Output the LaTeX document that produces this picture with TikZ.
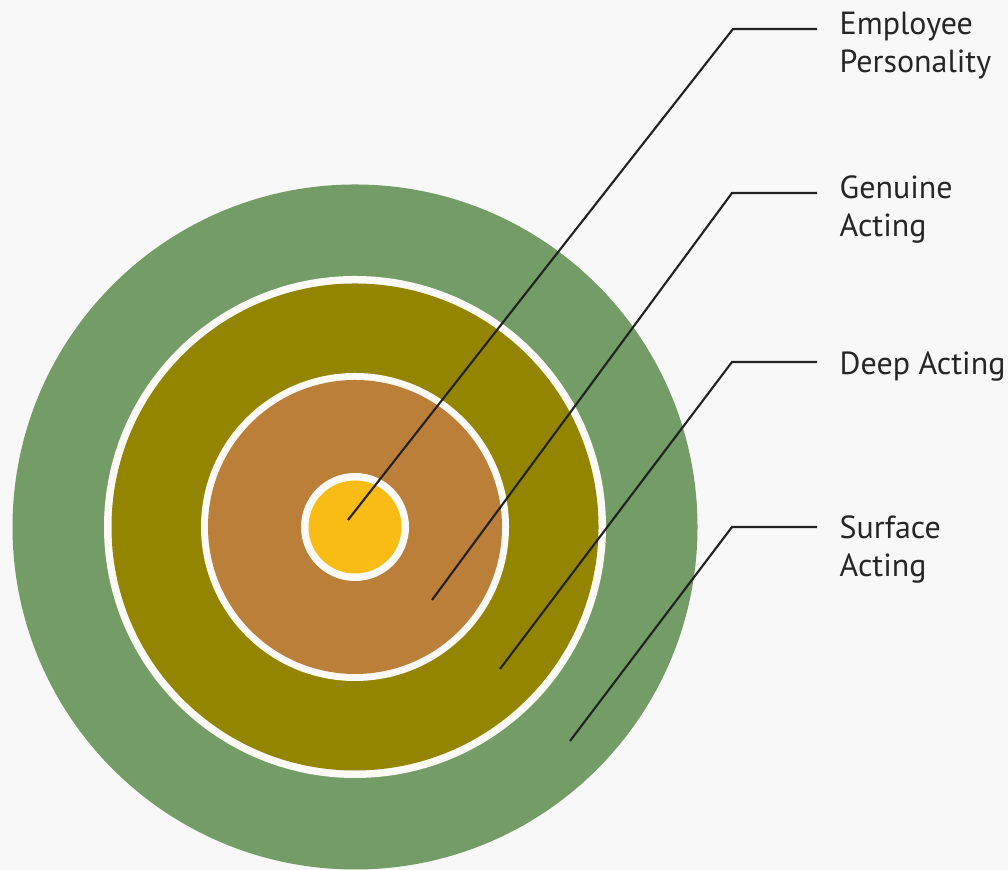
\documentclass[tikz,border=0pt]{standalone}
\usepackage{fontspec}
\setmainfont{PT Sans}
\usepackage{tikz}
\usetikzlibrary{positioning}
\definecolor{bgcol}{HTML}{F8F8F8}
\definecolor{ringwhite}{HTML}{FBFAF6}
\definecolor{surfgreen}{HTML}{739C66}
\definecolor{deepolive}{HTML}{938500}
\definecolor{genbrown}{HTML}{BB7F3A}
\definecolor{persyellow}{HTML}{F8BC14}
\definecolor{leadcol}{HTML}{222222}

\begin{document}
\begin{tikzpicture}[
        ring/.style={circle, inner sep=0pt, minimum size=#1},
        lead/.style={line width=0.6pt, leadcol},
        lbl/.style={anchor=base west, align=left, inner sep=0pt, text=black!85,
            font=\fontsize{9.1}{11}\selectfont}
    ]
        \fill[bgcol] (0,0) rectangle (10.08,8.70);
        \useasboundingbox (0,0) rectangle (10.08,8.70);

        % rings, outside in
        \node[ring=6.85cm, fill=surfgreen] (surface) at (3.55,3.43) {};
        \node[ring=5.02cm, fill=ringwhite] (surfgap) at (surface.center) {};
        \node[ring=4.87cm, fill=deepolive] (deep) at (surface.center) {};
        \node[ring=3.08cm, fill=ringwhite] (deepgap) at (surface.center) {};
        \node[ring=2.94cm, fill=genbrown] (genuine) at (surface.center) {};
        \node[ring=1.08cm, fill=ringwhite] (gengap) at (surface.center) {};
        \node[ring=0.93cm, fill=persyellow] (personality) at (surface.center) {};

        % leader points
        \coordinate (pEmp) at (3.48,3.50);
        \coordinate (kEmp) at (7.33,8.41);
        \coordinate (hEmp) at (8.17,8.41);
        \coordinate (pGen) at (4.32,2.70);
        \coordinate (kGen) at (7.32,6.77);
        \coordinate (hGen) at (8.17,6.77);
        \coordinate (pDeep) at (5.00,2.01);
        \coordinate (kDeep) at (7.32,5.08);
        \coordinate (hDeep) at (8.17,5.08);
        \coordinate (pSurf) at (5.70,1.29);
        \coordinate (kSurf) at (7.32,3.43);
        \coordinate (hSurf) at (8.17,3.43);

        \draw[lead] (pEmp) -- (kEmp) -- (hEmp);
        \draw[lead] (pGen) -- (kGen) -- (hGen);
        \draw[lead] (pDeep) -- (kDeep) -- (hDeep);
        \draw[lead] (pSurf) -- (kSurf) -- (hSurf);

        % labels (base = last line)
        \node[lbl] (tEmp) at (8.39,7.97) {Employee\\Personality};
        \node[lbl] (tGen) at (8.39,6.33) {Genuine\\Acting};
        \node[lbl] (tDeep) at (8.39,4.95) {Deep Acting};
        \node[lbl] (tSurf) at (8.39,2.93) {Surface\\Acting};
    \end{tikzpicture}
\end{document}
